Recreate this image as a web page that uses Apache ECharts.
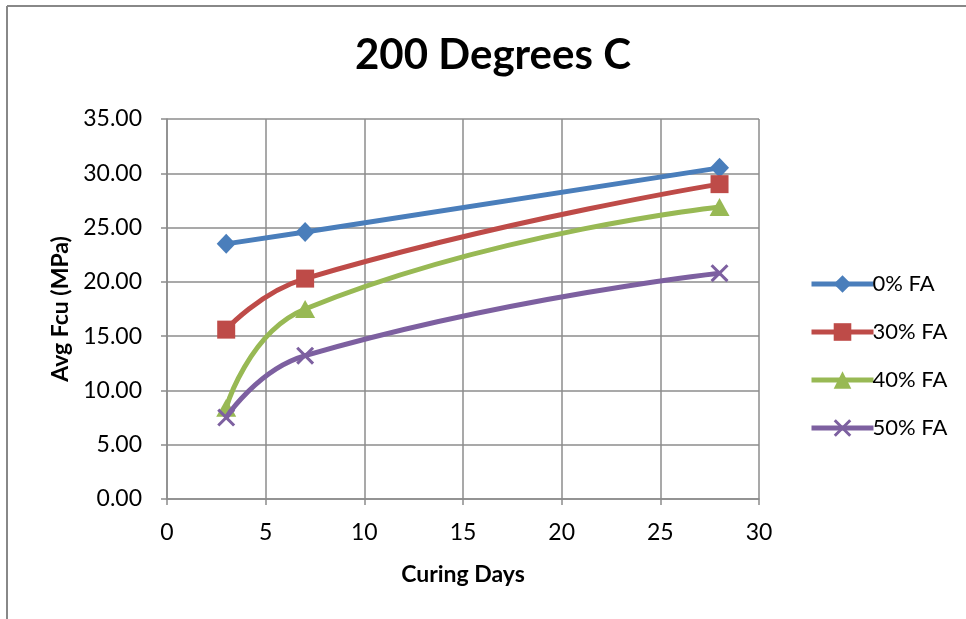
<!DOCTYPE html>
<html>
<head>
<meta charset="utf-8">
<script src="https://cdn.jsdelivr.net/npm/echarts@6/dist/echarts.min.js"></script>
<style>
  html, body { margin: 0; padding: 0; background: #fff; }
  #chart { width: 966px; height: 619px; }
</style>
</head>
<body>
<div id="chart"></div>
<script>
// Curing days (x) and average compressive strength (MPa) per fly-ash mix
const curingDays = [3, 7, 28];
const fa0  = [23.5, 24.6, 30.5];
const fa30 = [15.6, 20.3, 29.0];
const fa40 = [8.4, 17.5, 26.9];
const fa50 = [7.5, 13.2, 20.8];

const seriesNames = ['0% FA', '30% FA', '40% FA', '50% FA'];
const seriesValues = [fa0, fa30, fa40, fa50];
const seriesColors = ['#4A7EBB', '#BE4B48', '#98B954', '#7D60A0'];
const seriesSymbols = [
  'diamond',
  'rect',
  'triangle',
  'path://M0,1.2 L1.2,0 L10,8.8 L8.8,10 Z M8.8,0 L10,1.2 L1.2,10 L0,8.8 Z'
];
const seriesSymbolSizes = [[19, 20], 18, [20, 18], 18];

const font = 'Lato, "Noto Sans", sans-serif';
const gridColor = '#8C8C8C';

const chart = echarts.init(document.getElementById('chart'), null, { renderer: 'canvas' });

chart.setOption({
  backgroundColor: '#ffffff',
  animation: false,
  title: {
    text: '200 Degrees C',
    left: 350,
    top: 29,
    textStyle: { fontFamily: font, fontWeight: 'bold', fontSize: 42, color: '#000' }
  },
  grid: { left: 167, right: 207, top: 119, bottom: 120 },
  legend: {
    orient: 'vertical',
    left: 804,
    top: 268,
    itemWidth: 62,
    itemHeight: 22,
    itemGap: 26,
    lineStyle: { width: 5 },
    textStyle: { fontFamily: font, fontSize: 22, color: '#000', padding: [0, 0, 0, -6] },
    data: seriesNames
  },
  xAxis: {
    type: 'value',
    min: 0,
    max: 30,
    interval: 5,
    name: 'Curing Days',
    nameLocation: 'middle',
    nameGap: 64,
    nameTextStyle: { fontFamily: font, fontWeight: 'bold', fontSize: 23, color: '#000' },
    axisLine: { show: true, lineStyle: { color: gridColor, width: 1.5 } },
    axisTick: { show: true, length: 6, lineStyle: { color: gridColor, width: 1.5 } },
    axisLabel: { fontFamily: font, fontSize: 23, color: '#000', margin: 22 },
    splitLine: { show: true, lineStyle: { color: gridColor, width: 1.5 } }
  },
  yAxis: {
    type: 'value',
    min: 0,
    max: 35,
    interval: 5,
    name: 'Avg Fcu (MPa)',
    nameLocation: 'middle',
    nameGap: 93,
    nameTextStyle: { fontFamily: font, fontWeight: 'bold', fontSize: 23, color: '#000' },
    axisLine: { show: true, lineStyle: { color: gridColor, width: 1.5 } },
    axisTick: { show: true, length: 6, lineStyle: { color: gridColor, width: 1.5 } },
    axisLabel: {
      fontFamily: font, fontSize: 23, color: '#000', margin: 25,
      formatter: v => v.toFixed(2)
    },
    splitLine: { show: true, lineStyle: { color: gridColor, width: 1.5 } }
  },
  graphic: [
    { type: 'line', shape: { x1: 7, y1: 6, x2: 966, y2: 6 }, style: { stroke: '#888', lineWidth: 2 } },
    { type: 'line', shape: { x1: 7, y1: 6, x2: 7, y2: 619 }, style: { stroke: '#888', lineWidth: 2 } }
  ],
  series: seriesNames.map((name, i) => ({
    name,
    type: 'line',
    smooth: 0.5,
    data: curingDays.map((d, j) => [d, seriesValues[i][j]]),
    symbol: seriesSymbols[i],
    symbolSize: seriesSymbolSizes[i],
    showAllSymbol: true,
    lineStyle: { color: seriesColors[i], width: 5 },
    itemStyle: { color: seriesColors[i], opacity: 1 },
    z: 2 + i
  }))
});
</script>
</body>
</html>
